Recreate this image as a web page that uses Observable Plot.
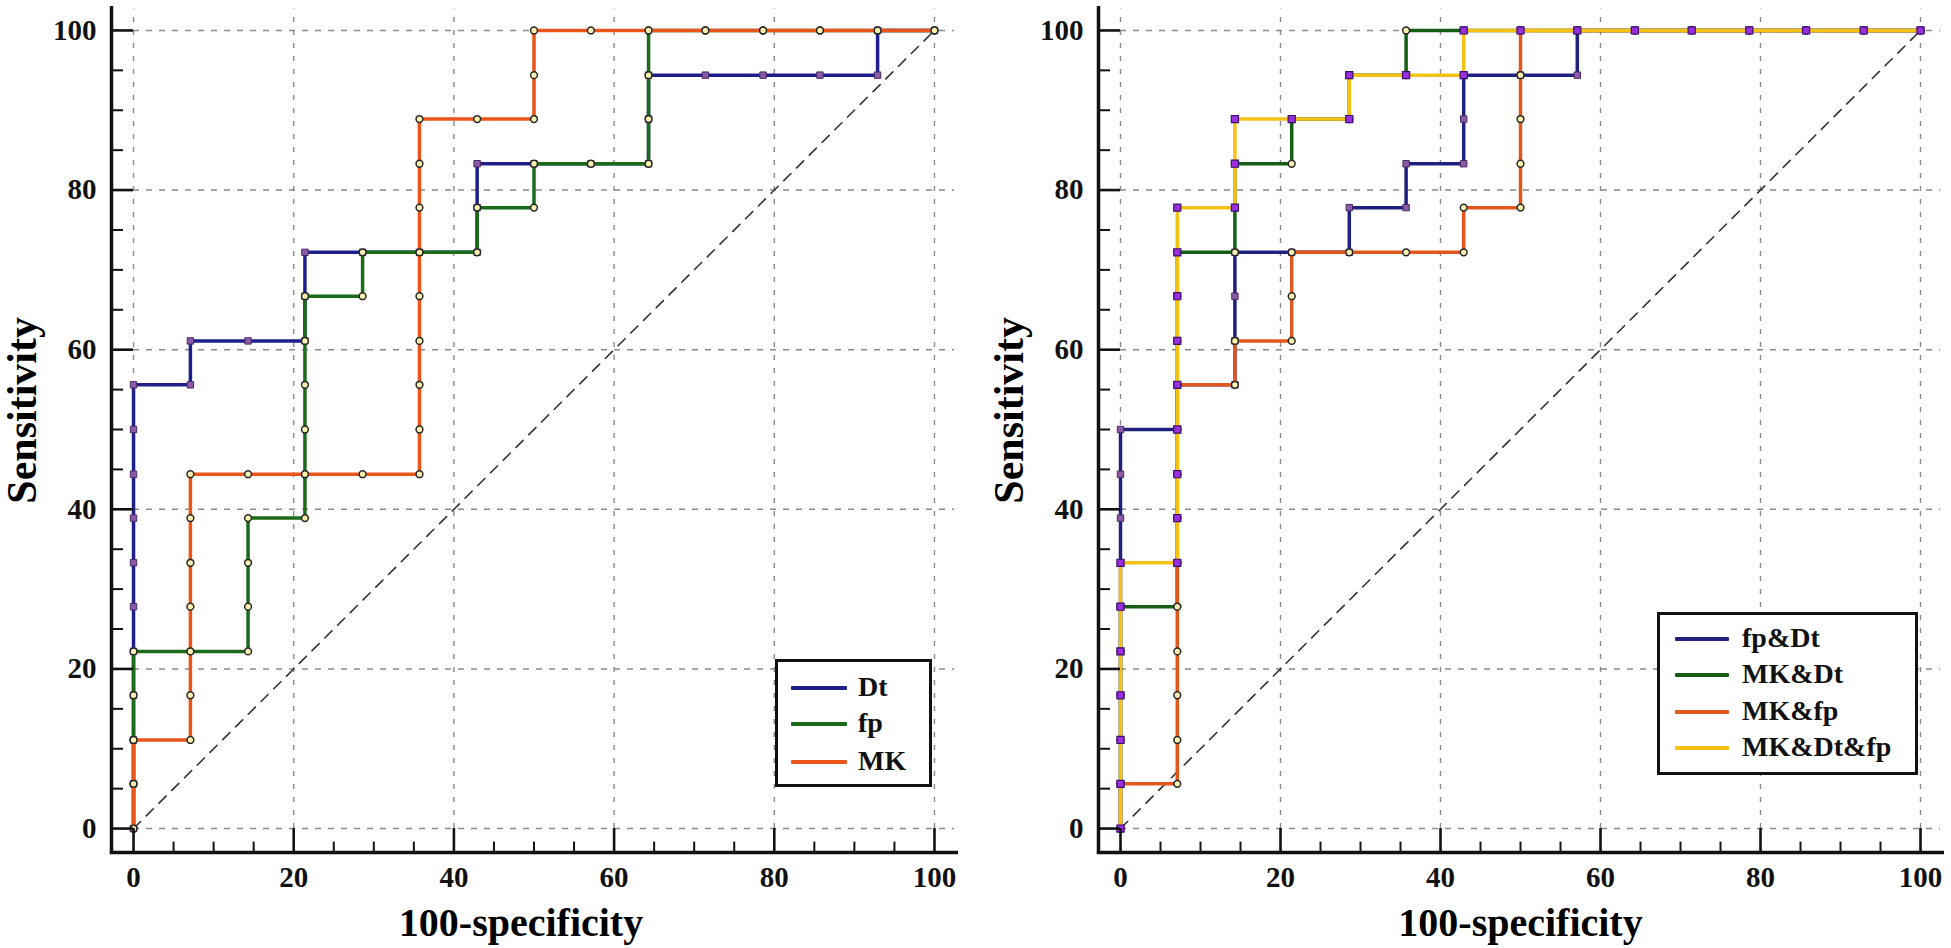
<!DOCTYPE html>
<html><head><meta charset="utf-8">
<script src="https://cdn.jsdelivr.net/npm/d3@7"></script>
<script src="https://cdn.jsdelivr.net/npm/@observablehq/plot@0.6"></script>
<style>
html,body{margin:0;padding:0;background:#fff;}
#wrap{position:relative;width:1951px;height:948px;overflow:hidden;background:#fff;}
.panel{position:absolute;top:0;}
.legend{position:absolute;box-sizing:border-box;border:3px solid #111;background:#fff;font-family:'Liberation Serif','Times New Roman',serif;font-weight:bold;font-size:28px;color:#111;}
.sw{position:absolute;height:4px;margin-top:-2px;border-radius:1px;}
.lt{position:absolute;line-height:1;transform:translateY(-52%);white-space:nowrap;}
</style></head><body><div id="wrap"></div><script>
// ---- tick values ----
const xTicks = [0, 20, 40, 60, 80, 100];
const yTicks = [0, 20, 40, 60, 80, 100];
const minorTicks = [5, 10, 15, 25, 30, 35, 45, 50, 55, 65, 70, 75, 85, 90, 95];
const diagX = [0, 100];
const diagY = [0, 100];

// ---- left panel: single markers (100-specificity, sensitivity in %) ----
const leftNames = ["Dt", "fp", "MK"];
const dtX = [0,0,0,0,0,0,0,0,0,0,0,7.1,7.1,14.3,21.4,21.4,21.4,28.6,35.7,42.9,42.9,42.9,50,57.1,64.3,64.3,64.3,71.4,78.6,85.7,92.9,92.9,100];
const dtY = [0,5.6,11.1,16.7,22.2,27.8,33.3,38.9,44.4,50,55.6,55.6,61.1,61.1,61.1,66.7,72.2,72.2,72.2,72.2,77.8,83.3,83.3,83.3,83.3,88.9,94.4,94.4,94.4,94.4,94.4,100,100];
const fpX = [0,0,0,0,0,7.1,14.3,14.3,14.3,14.3,21.4,21.4,21.4,21.4,21.4,21.4,28.6,28.6,35.7,42.9,42.9,50,50,57.1,64.3,64.3,64.3,64.3,71.4,78.6,85.7,92.9,100];
const fpY = [0,5.6,11.1,16.7,22.2,22.2,22.2,27.8,33.3,38.9,38.9,44.4,50,55.6,61.1,66.7,66.7,72.2,72.2,72.2,77.8,77.8,83.3,83.3,83.3,88.9,94.4,100,100,100,100,100,100];
const mkX = [0,0,0,7.1,7.1,7.1,7.1,7.1,7.1,7.1,14.3,21.4,28.6,35.7,35.7,35.7,35.7,35.7,35.7,35.7,35.7,35.7,42.9,50,50,50,57.1,64.3,71.4,78.6,85.7,92.9,100];
const mkY = [0,5.6,11.1,11.1,16.7,22.2,27.8,33.3,38.9,44.4,44.4,44.4,44.4,44.4,50,55.6,61.1,66.7,72.2,77.8,83.3,88.9,88.9,88.9,94.4,100,100,100,100,100,100,100,100];

// ---- right panel: combinations ----
const rightNames = ["fp&Dt", "MK&Dt", "MK&fp", "MK&Dt&fp"];
const fpdtX = [0,0,0,0,0,0,0,0,0,0,7.1,7.1,14.3,14.3,14.3,14.3,21.4,28.6,28.6,35.7,35.7,42.9,42.9,42.9,50,57.1,57.1,64.3,71.4,78.6,85.7,92.9,100];
const fpdtY = [0,5.6,11.1,16.7,22.2,27.8,33.3,38.9,44.4,50,50,55.6,55.6,61.1,66.7,72.2,72.2,72.2,77.8,77.8,83.3,83.3,88.9,94.4,94.4,94.4,100,100,100,100,100,100,100];
const mkdtX = [0,0,0,0,0,0,7.1,7.1,7.1,7.1,7.1,7.1,7.1,7.1,7.1,14.3,14.3,14.3,21.4,21.4,28.6,28.6,35.7,35.7,42.9,50,57.1,64.3,71.4,78.6,85.7,92.9,100];
const mkdtY = [0,5.6,11.1,16.7,22.2,27.8,27.8,33.3,38.9,44.4,50,55.6,61.1,66.7,72.2,72.2,77.8,83.3,83.3,88.9,88.9,94.4,94.4,100,100,100,100,100,100,100,100,100,100];
const mkfpX = [0,0,7.1,7.1,7.1,7.1,7.1,7.1,7.1,7.1,7.1,7.1,14.3,14.3,21.4,21.4,21.4,28.6,35.7,42.9,42.9,50,50,50,50,50,57.1,64.3,71.4,78.6,85.7,92.9,100];
const mkfpY = [0,5.6,5.6,11.1,16.7,22.2,27.8,33.3,38.9,44.4,50,55.6,55.6,61.1,61.1,66.7,72.2,72.2,72.2,72.2,77.8,77.8,83.3,88.9,94.4,100,100,100,100,100,100,100,100];
const allX = [0,0,0,0,0,0,0,7.1,7.1,7.1,7.1,7.1,7.1,7.1,7.1,7.1,14.3,14.3,14.3,21.4,28.6,28.6,35.7,42.9,42.9,50,57.1,64.3,71.4,78.6,85.7,92.9,100];
const allY = [0,5.6,11.1,16.7,22.2,27.8,33.3,33.3,38.9,44.4,50,55.6,61.1,66.7,72.2,77.8,77.8,83.3,88.9,88.9,88.9,94.4,94.4,94.4,100,100,100,100,100,100,100,100,100];

const pts = (xs, ys) => xs.map((x, i) => ({x, y: ys[i]}));
const FONT = "'Liberation Serif','Times New Roman',serif";
const circleMk = {symbol: "circle", r: 3.4, fill: "#fbf2b0", stroke: "#262626", strokeWidth: 1.5};
const purpleMk = {symbol: "square", r: 3.6, fill: "#8d5aa8", stroke: "#472a62", strokeWidth: 1};
const magentaMk = {symbol: "square", r: 4.0, fill: "#9b2fe0", stroke: "#3a0f70", strokeWidth: 1.2};

const leftSeries = [
  {name: leftNames[0], data: pts(dtX, dtY), color: "#1f1f8c", mk: purpleMk},
  {name: leftNames[1], data: pts(fpX, fpY), color: "#1b6b1b", mk: circleMk},
  {name: leftNames[2], data: pts(mkX, mkY), color: "#ea551b", mk: circleMk}
];
const rightSeries = [
  {name: rightNames[0], data: pts(fpdtX, fpdtY), color: "#20207e", mk: purpleMk},
  {name: rightNames[1], data: pts(mkdtX, mkdtY), color: "#165e16", mk: circleMk},
  {name: rightNames[2], data: pts(mkfpX, mkfpY), color: "#e2571d", mk: circleMk},
  {name: rightNames[3], data: pts(allX, allY), color: "#f5c214", mk: magentaMk}
];

function panel(series, cfg) {
  const marks = [
    Plot.ruleY(yTicks, {x1: 0, x2: 102.5, stroke: "#8a8a8a", strokeWidth: 1.4, strokeDasharray: "6,7"}),
    Plot.ruleX(xTicks, {y1: 0, y2: 102.7, stroke: "#8a8a8a", strokeWidth: 1.4, strokeDasharray: "5,8"}),
    Plot.line(pts(diagX, diagY), {x: "x", y: "y", stroke: "#333", strokeWidth: 1.6, strokeDasharray: "10,8"})
  ];
  for (const s of series) {
    marks.push(Plot.line(s.data, {x: "x", y: "y", stroke: s.color, strokeWidth: 3.5, strokeLinejoin: "round", strokeLinecap: "round"}));
    marks.push(Plot.dot(s.data, {x: "x", y: "y", ...s.mk}));
  }
  marks.push(
    Plot.ruleX(xTicks, {y1: -3, y2: 0, stroke: "#111", strokeWidth: 2.6}),
    Plot.ruleX(minorTicks, {y1: -3, y2: -1.7, stroke: "#111", strokeWidth: 2}),
    Plot.ruleY(yTicks, {x1: -2.75, x2: 0, stroke: "#111", strokeWidth: 2.6}),
    Plot.ruleY(minorTicks, {x1: -2.75, x2: -1.25, stroke: "#111", strokeWidth: 2}),
    Plot.ruleX([-2.75], {y1: -3.2, y2: 103, stroke: "#111", strokeWidth: 3.5}),
    Plot.ruleY([-3], {x1: -2.9, x2: 103, stroke: "#111", strokeWidth: 3.5}),
    Plot.axisX({ticks: xTicks, tickSize: 0, tickPadding: 14, label: null, fontSize: 29, fontWeight: "bold", fill: "#111"}),
    Plot.axisY({ticks: yTicks, tickSize: 0, tickPadding: 15, label: null, fontSize: 29, fontWeight: "bold", fill: "#111"}),
    Plot.text(["100-specificity"], {text: d => d, frameAnchor: "bottom", lineAnchor: "middle", dx: cfg.titleDx, dy: 71, fontSize: 40, fontWeight: "bold", fill: "#000"}),
    Plot.text(["Sensitivity"], {text: d => d, x: -13.9, y: 52.4, lineAnchor: "middle", textAnchor: "middle", rotate: -90, fontSize: 42, fontWeight: "bold", fill: "#000"})
  );
  return Plot.plot({
    width: cfg.width, height: 948,
    marginLeft: cfg.ml, marginRight: cfg.mr, marginTop: 6, marginBottom: 96,
    x: {domain: [-2.75, 103]},
    y: {domain: [-3, 103]},
    style: {fontFamily: FONT, fontWeight: "bold", fontSize: "29px", color: "#111", background: "#fff", overflow: "visible"},
    marks
  });
}

function legend(series, box) {
  const lg = document.createElement("div");
  lg.className = "legend";
  Object.assign(lg.style, {left: box.left + "px", top: box.top + "px", width: box.w + "px", height: box.h + "px"});
  series.forEach((s, i) => {
    const cy = box.rows[i] - 3;
    const sw = document.createElement("div");
    sw.className = "sw";
    Object.assign(sw.style, {left: box.lx + "px", width: box.lw + "px", top: cy + "px", background: s.color});
    const t = document.createElement("div");
    t.className = "lt";
    Object.assign(t.style, {left: box.tx + "px", top: cy + "px"});
    t.textContent = s.name;
    lg.append(sw, t);
  });
  return lg;
}

const wrap = document.getElementById("wrap");
const p1 = document.createElement("div"); p1.className = "panel"; p1.style.left = "0px";
p1.append(panel(leftSeries, {width: 975, ml: 111, mr: 17, titleDx: -14}));
const p2 = document.createElement("div"); p2.className = "panel"; p2.style.left = "975px";
p2.append(panel(rightSeries, {width: 976, ml: 123, mr: 7, titleDx: -1}));
wrap.append(p1, p2);
wrap.append(legend(leftSeries, {left: 775, top: 659, w: 157, h: 128, lx: 13, lw: 56, tx: 80, rows: [29, 65, 103]}));
wrap.append(legend(rightSeries, {left: 1657, top: 612, w: 261, h: 163, lx: 15, lw: 54, tx: 82, rows: [27, 63, 100, 136]}));
</script></body></html>
